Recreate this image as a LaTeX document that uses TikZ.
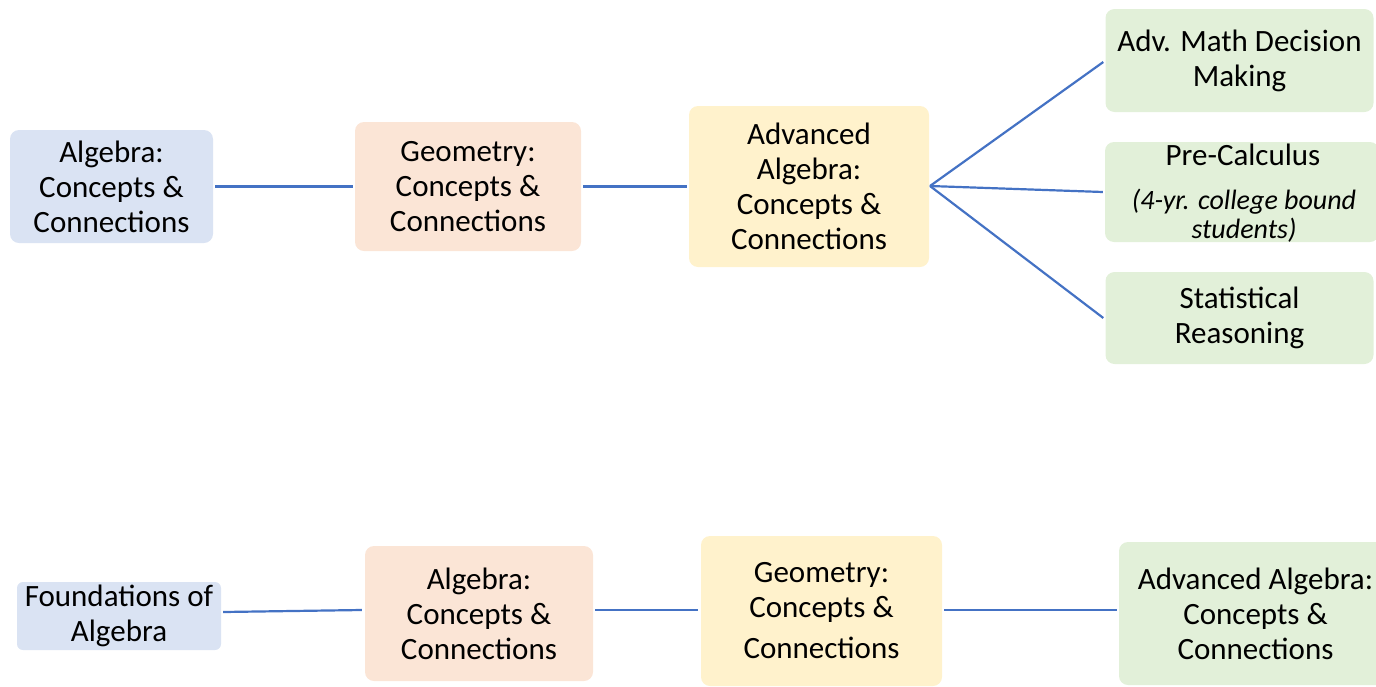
\documentclass[tikz,border=0pt]{standalone}
\usepackage{fontspec}
\setmainfont{Carlito}
\definecolor{cblue}{HTML}{DAE3F3}
\definecolor{cpeach}{HTML}{FBE5D6}
\definecolor{cyellow}{HTML}{FFF2CC}
\definecolor{cgreen}{HTML}{E2F0D9}
\definecolor{cline}{HTML}{4472C4}
\begin{document}
\begin{tikzpicture}[x=1pt,y=-1pt,
  box/.style={rounded corners=9pt, inner sep=0pt, align=center,
    font=\fontsize{31}{35}\selectfont},
  lbl/.style={inner sep=0pt, align=center},
  conn/.style={draw=cline, line width=2.2pt}]
\useasboundingbox (0,0) rectangle (1376,686);
% top row
\node[box, fill=cblue, minimum width=203pt, minimum height=113pt] (a1) at (111.5,186.5) {Algebra:\\Concepts \&\\Connections};
\node[box, fill=cpeach, minimum width=226pt, minimum height=129pt] (g1) at (468,186.5) {Geometry:\\Concepts \&\\Connections};
\node[box, fill=cyellow, minimum width=240pt, minimum height=161pt] (aa1) at (809,186.5) {Advanced\\Algebra:\\Concepts \&\\Connections};
\node[box, fill=cgreen, minimum width=268pt, minimum height=103pt] (m1) at (1239.5,60.5) {Adv. Math Decision\\Making};
\node[box, fill=cgreen, minimum width=274pt, minimum height=100pt] (m2) at (1242,192) {};
\node[lbl, font=\fontsize{31}{35}\selectfont] (m2t) at (1243,155) {Pre-Calculus};
\node[lbl, font=\fontsize{28}{29}\itshape\selectfont] (m2s) at (1244,216) {(4-yr. college bound\\students)};
\node[box, fill=cgreen, minimum width=268pt, minimum height=92pt] (m3) at (1239.5,318) {Statistical\\Reasoning};
\coordinate (fork) at (930,186);
\draw[conn] (a1.east) ++(2,0) -- ([xshift=-2pt]g1.west);
\draw[conn] (g1.east) ++(2,0) -- ([xshift=-2pt]aa1.west);
\draw[conn] (fork) -- ([xshift=-2pt,yshift=-1.5pt]m1.west);
\draw[conn] (fork) -- ([xshift=-2pt]m2.west);
\draw[conn] (fork) -- ([xshift=-2pt]m3.west);
% bottom row
\node[box, rounded corners=6pt, fill=cblue, minimum width=204pt, minimum height=68pt] (f) at (119,616) {Foundations of\\Algebra};
\node[box, fill=cpeach, minimum width=228pt, minimum height=135pt] (a2) at (479,613.5) {Algebra:\\Concepts \&\\Connections};
\node[box, fill=cyellow, minimum width=241pt, minimum height=150pt] (g2) at (821.5,611) {Geometry:\\Concepts \&\\[6pt]Connections};
\node[box, fill=cgreen, minimum width=273pt, minimum height=143pt] (aa2) at (1255.5,613.5) {Advanced Algebra:\\Concepts \&\\Connections};
\draw[conn] ([xshift=2pt,yshift=4pt]f.east) -- ([xshift=-3pt,yshift=3.5pt]a2.west);
\draw[conn] ([xshift=2pt,yshift=3.5pt]a2.east) -- ([xshift=-3pt,yshift=1pt]g2.west);
\draw[conn] ([xshift=2pt,yshift=1pt]g2.east) -- ([xshift=-2pt,yshift=3.5pt]aa2.west);
\end{tikzpicture}
\end{document}
